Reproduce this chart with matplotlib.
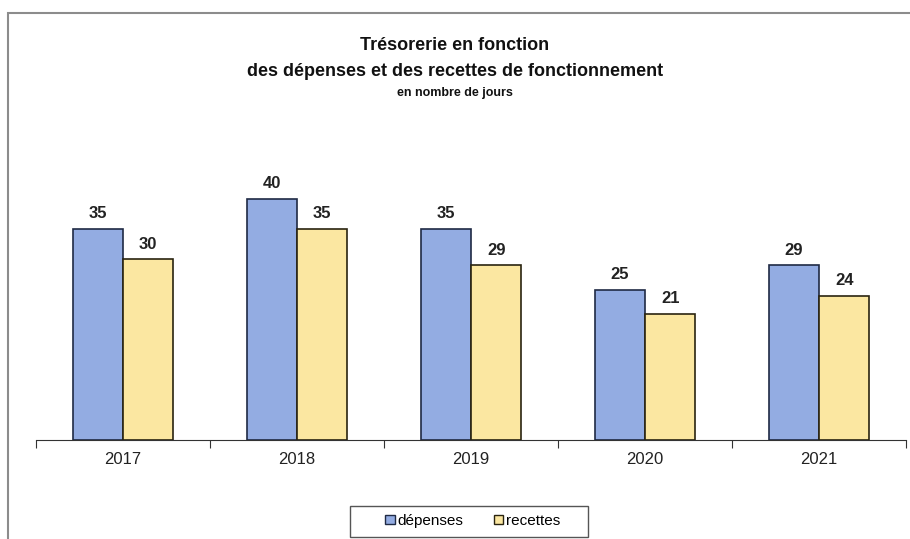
import matplotlib
matplotlib.use("Agg")
import matplotlib.pyplot as plt
from matplotlib.patches import Rectangle, Patch
import numpy as np

years = ["2017", "2018", "2019", "2020", "2021"]
depenses = [35, 40, 35, 25, 29]
recettes = [30, 35, 29, 21, 24]

plt.rcParams['font.family'] = ['Liberation Sans', 'DejaVu Sans']

fig = plt.figure(figsize=(9.1, 5.39), dpi=100)
fig.patches.append(Rectangle((8/910, -0.1), 1.2, 1 - 13/539 + 0.1, transform=fig.transFigure,
                             fill=False, edgecolor='#8c8c8c', linewidth=1.5))

ax = fig.add_axes([36/910, 1 - 440/539, 870/910, 301/539])
x = np.arange(len(years))
w = 0.29
b1 = ax.bar(x - w/2, depenses, w, color='#93ACE2', edgecolor='#1f2a44', linewidth=1.2, label='dépenses')
b2 = ax.bar(x + w/2, recettes, w, color='#FBE7A1', edgecolor='#2a2410', linewidth=1.2, label='recettes')
for bars, vals in ((b1, depenses), (b2, recettes)):
    for r, v in zip(bars, vals):
        ax.text(r.get_x() + r.get_width()/2, v + 1.3, str(v), ha='center', va='bottom',
                fontsize=12, fontweight='bold', color='#222222')

ax.set_xlim(-0.5, len(years) - 0.5)
ax.set_ylim(0, 50)
ax.set_yticks([])
for s in ('left', 'right', 'top'):
    ax.spines[s].set_visible(False)
ax.spines['bottom'].set_color('#333333')
ax.set_xticks(np.arange(len(years) + 1) - 0.5, minor=False)
ax.set_xticklabels([''] * (len(years) + 1))
ax.tick_params(axis='x', direction='out', length=6, color='#333333')
ax.set_xticks(x, minor=True)
ax.set_xticklabels(years, minor=True, fontsize=12, color='#222222')
ax.tick_params(axis='x', which='minor', length=0, pad=9)

fig.text(0.5, 1 - 45/539, "Trésorerie en fonction", ha='center', va='center',
         fontsize=13, fontweight='bold', color='#111111')
fig.text(0.5, 1 - 71/539, "des dépenses et des recettes de fonctionnement", ha='center', va='center',
         fontsize=13, fontweight='bold', color='#111111')
fig.text(0.5, 1 - 93/539, "en nombre de jours", ha='center', va='center',
         fontsize=9, fontweight='bold', color='#111111')

fig.patches.append(Rectangle((350/910, 1 - 537/539), 238/910, 31/539, transform=fig.transFigure,
                             fill=True, facecolor='white', edgecolor='#555555', linewidth=1.0))
handles = [Patch(facecolor='#93ACE2', edgecolor='#1f2a44'), Patch(facecolor='#FBE7A1', edgecolor='#2a2410')]
leg = fig.legend(handles, ['dépenses', 'recettes'], loc='center', bbox_to_anchor=(473/910, 1 - 521/539),
                 ncol=2, frameon=False, fontsize=11, handlelength=0.6, handleheight=0.6,
                 handletextpad=0.2, columnspacing=2.0)

fig.savefig("out.png", dpi=100)
